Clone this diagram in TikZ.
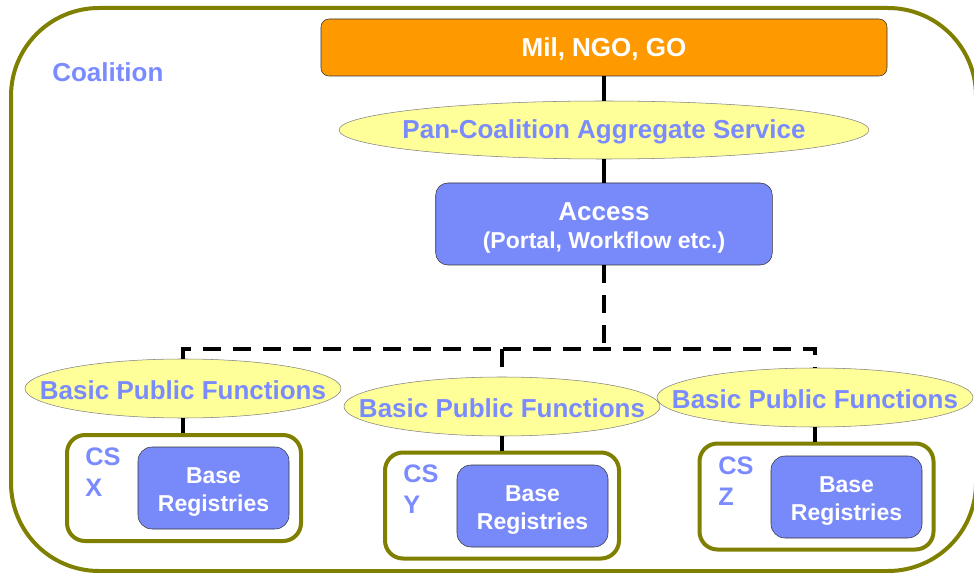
\documentclass[tikz,border=0pt]{standalone}
\usepackage{fontspec}
\setmainfont{Liberation Sans}
\usetikzlibrary{shapes.geometric}
\definecolor{olv}{HTML}{808000}
\definecolor{orng}{HTML}{FF9900}
\definecolor{pale}{HTML}{FFFF99}
\definecolor{blu}{HTML}{7889FA}
\definecolor{blutext}{HTML}{7A8BFF}
\tikzset{
  bigfont/.style={font=\bfseries\fontsize{19.5}{23}\selectfont},
  smallfont/.style={font=\bfseries\fontsize{17.25}{21}\selectfont},
  topbox/.style={draw=black!80, fill=orng, rounded corners=6pt, minimum width=424.5pt, minimum height=42.75pt,
    label={[text=white, bigfont, yshift=-1.5pt]center:#1}},
  service/.style={ellipse, draw=gray, fill=pale, inner sep=0pt, label={[text=blutext, bigfont, yshift=-1.5pt]center:#1}},
  accessbox/.style={draw=black!80, fill=blu, rounded corners=9pt, minimum width=252.4pt, minimum height=61.5pt,
    label={[text=white, bigfont, align=center, yshift=-3pt]center:#1}},
  csbox/.style={draw=olv, line width=3pt, fill=white, rounded corners=13.5pt, minimum width=175.5pt, minimum height=79.5pt},
  regbox/.style={draw=black!80, fill=blu, rounded corners=10.5pt, minimum width=113.25pt, minimum height=61.5pt,
    label={[text=white, smallfont, align=center, yshift=-3pt]center:Base\\Registries}},
  cslabel/.style={anchor=north west, inner sep=0pt, align=left, text=blutext, font=\bfseries\fontsize{19}{23}\selectfont},
  link/.style={line width=3pt},
  dashbus/.style={line width=3pt, dash pattern=on 13.5pt off 9pt}
}
\begin{document}
\begin{tikzpicture}[x=0.75pt,y=-0.75pt]
  \useasboundingbox (0,0) rectangle (974,573);
  % coalition frame
  \draw[olv, line width=3pt, rounded corners=66pt] (11,8) rectangle (976,571);
  \node[anchor=base west, inner sep=0pt, text=blutext, bigfont] (coal) at (52,82) {Coalition};

  % top of the tree
  \node[topbox={Mil, NGO, GO}] (mil) at (604,47.5) {};
  \node[service=Pan-Coalition Aggregate Service, minimum width=397.5pt, minimum height=43.5pt] (pcas) at (604,130) {};
  \node[accessbox={Access\\[-1.5pt]\fontsize{17.25}{21}\selectfont(Portal, Workflow etc.)}] (access) at (604,224) {};
  \draw[link] (mil) -- (pcas);
  \draw[link] (pcas) -- (access);

  % the three services
  \node[service=Basic Public Functions, minimum width=237pt, minimum height=44.25pt] (bpfX) at (183,388.5) {};
  \node[service=Basic Public Functions, minimum width=237pt, minimum height=44.25pt] (bpfY) at (502,406.5) {};
  \node[service=Basic Public Functions, minimum width=237pt, minimum height=44.25pt] (bpfZ) at (815,397.5) {};
  \coordinate (hub) at (604,349);
  \draw[dashbus] (access) -- (hub);
  \draw[dashbus] (bpfX.north) -- (bpfX.north |- hub) -- (bpfZ.north |- hub) -- (bpfZ.north);
  \draw[dashbus] (bpfY.north |- hub) -- (bpfY.north);

  % CS boxes
  \node[csbox] (csX) at (184,488) {};
  \node[csbox] (csY) at (502,505.5) {};
  \node[csbox] (csZ) at (816.5,496.5) {};
  \node[regbox] (regX) at (213.5,488) {};
  \node[regbox] (regY) at (532.5,506) {};
  \node[regbox] (regZ) at (846.5,497) {};
  \node[cslabel] (labX) at (85,448) {CS\\X};
  \node[cslabel] (labY) at (403,465) {CS\\Y};
  \node[cslabel] (labZ) at (718,457) {CS\\Z};
  \draw[link] (bpfX) -- (bpfX |- csX.north);
  \draw[link] (bpfY) -- (bpfY |- csY.north);
  \draw[link] (bpfZ) -- (bpfZ |- csZ.north);
\end{tikzpicture}
\end{document}
